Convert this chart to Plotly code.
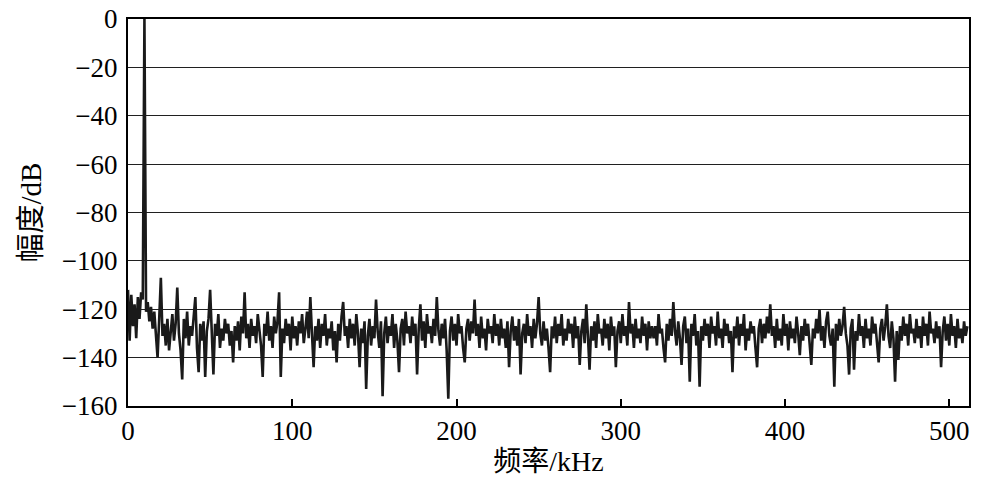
import plotly.graph_objects as go

# frequency grid (kHz), 1 kHz spacing, 0..511
freq_khz = list(range(0, 512))

amp_000 = [-112, -133, -114, -127, -118, -132, -115, -124, -113, -116, 0, -121, -117, -125, -119, -128,
           -121, -131, -140, -124, -107, -131, -126, -135, -124, -137, -128, -122, -133, -126, -111, -130]
amp_032 = [-137, -149, -124, -132, -121, -135, -127, -131, -123, -115, -136, -146, -126, -133, -125, -148,
           -129, -124, -112, -134, -147, -126, -131, -122, -136, -128, -133, -124, -130, -126, -135, -129]
amp_064 = [-142, -127, -133, -125, -137, -123, -130, -113, -132, -126, -136, -124, -131, -127, -134, -122,
           -129, -135, -148, -126, -131, -121, -133, -127, -136, -123, -130, -125, -113, -148, -128, -134]
amp_096 = [-124, -131, -126, -137, -123, -132, -127, -135, -125, -130, -122, -134, -128, -121, -132, -115,
           -130, -144, -127, -133, -124, -136, -126, -131, -122, -135, -128, -132, -125, -137, -129, -142]
amp_128 = [-126, -133, -123, -117, -131, -127, -136, -124, -132, -126, -135, -122, -130, -144, -128, -134,
           -125, -153, -131, -124, -135, -127, -132, -116, -129, -136, -125, -156, -130, -123, -134, -127]
amp_160 = [-131, -122, -136, -126, -133, -146, -128, -124, -135, -121, -130, -127, -134, -123, -131, -126,
           -147, -128, -118, -133, -125, -136, -122, -130, -127, -134, -124, -131, -115, -129, -135, -126]
amp_192 = [-132, -124, -137, -157, -129, -123, -133, -126, -135, -122, -130, -127, -136, -142, -128, -124,
           -133, -125, -130, -116, -131, -126, -136, -123, -132, -128, -137, -124, -130, -127, -134, -122]
amp_224 = [-131, -126, -135, -124, -132, -128, -136, -125, -144, -129, -123, -133, -127, -135, -124, -147,
           -130, -126, -134, -122, -131, -127, -136, -124, -132, -126, -115, -130, -135, -125, -133, -128]
amp_256 = [-136, -146, -127, -132, -123, -134, -126, -131, -122, -135, -128, -133, -124, -130, -126, -136,
           -123, -132, -127, -143, -129, -124, -134, -118, -131, -145, -127, -133, -125, -136, -122, -130]
amp_288 = [-128, -135, -124, -132, -126, -137, -123, -131, -127, -144, -129, -125, -134, -122, -131, -127,
           -135, -117, -130, -126, -136, -124, -132, -128, -134, -123, -131, -126, -137, -125, -132, -127]
amp_320 = [-132, -127, -135, -122, -130, -128, -136, -142, -126, -133, -124, -131, -117, -129, -135, -125,
           -132, -143, -127, -123, -134, -128, -150, -126, -131, -122, -135, -129, -152, -127, -133, -124]
amp_352 = [-131, -126, -136, -123, -130, -127, -135, -121, -132, -128, -136, -124, -131, -126, -134, -129,
           -146, -127, -132, -123, -135, -126, -131, -122, -137, -128, -133, -125, -130, -127, -136, -144]
amp_384 = [-128, -124, -134, -126, -132, -123, -130, -118, -131, -127, -136, -124, -133, -128, -135, -122,
           -131, -126, -137, -125, -132, -128, -134, -123, -130, -139, -127, -133, -124, -131, -126, -135]
amp_416 = [-143, -128, -132, -124, -130, -120, -133, -127, -136, -125, -121, -131, -135, -128, -152, -126,
           -133, -124, -131, -127, -119, -130, -135, -147, -128, -124, -145, -129, -133, -122, -131, -127]
amp_448 = [-136, -124, -132, -128, -135, -123, -130, -126, -134, -142, -128, -124, -133, -127, -118, -131,
           -136, -125, -132, -150, -129, -141, -127, -133, -123, -131, -126, -135, -122, -130, -128, -134]
amp_480 = [-124, -132, -127, -136, -123, -131, -126, -135, -121, -130, -128, -134, -125, -132, -127, -144,
           -129, -123, -133, -126, -135, -122, -131, -127, -136, -124, -132, -128, -134, -125, -131, -127]

amp_db = (amp_000 + amp_032 + amp_064 + amp_096 + amp_128 + amp_160 + amp_192 + amp_224 +
          amp_256 + amp_288 + amp_320 + amp_352 + amp_384 + amp_416 + amp_448 + amp_480)

x_ticks = [0, 100, 200, 300, 400, 500]
y_ticks = [0, -20, -40, -60, -80, -100, -120, -140, -160]

serif = "Liberation Serif"
title_fam = "Liberation Serif, Noto Sans CJK SC"

fig = go.Figure()
fig.add_trace(go.Scatter(
    x=freq_khz, y=amp_db, mode="lines",
    line=dict(color="#1a1a1a", width=2.6),
    showlegend=False, hoverinfo="skip",
))

fig.update_layout(
    width=981, height=482,
    margin=dict(l=128, r=12, t=19, b=76, autoexpand=False),
    paper_bgcolor="white", plot_bgcolor="white",
    font=dict(family=serif, size=24, color="black"),
)
fig.update_xaxes(
    range=[0, 512], tickvals=x_ticks, ticktext=[str(v) for v in x_ticks],
    ticks="inside", ticklen=7, tickwidth=1.5, tickcolor="black",
    showgrid=False, zeroline=False, automargin=False,
    showline=True, linecolor="black", linewidth=2, mirror=True,
    title=dict(text="频率/kHz", font=dict(size=28, family=title_fam), standoff=6),
    tickfont=dict(size=27, family=serif, color="black"),
)
fig.update_yaxes(
    range=[-160, 0], tickvals=y_ticks, ticktext=[("\u2212" + str(-v)) if v < 0 else "0" for v in y_ticks],
    ticks="outside", ticklen=3, tickcolor="white",
    showgrid=True, gridcolor="#202020", gridwidth=1.3, zeroline=False, automargin=False,
    showline=True, linecolor="black", linewidth=2, mirror=True,
    title=dict(text="幅度/dB", font=dict(size=29, family=title_fam), standoff=12),
    tickfont=dict(size=27, family=serif, color="black"),
)

fig.write_html("out.html", config={"displayModeBar": False},
               post_script="document.body.style.margin='0';")
